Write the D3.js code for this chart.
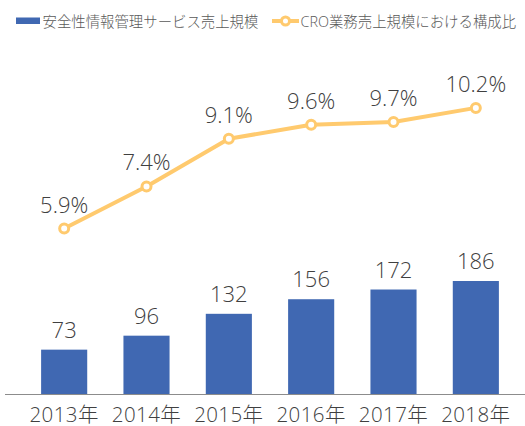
<!DOCTYPE html>
<html>
<head>
<meta charset="utf-8">
<script src="https://cdn.jsdelivr.net/npm/d3@7"></script>
<style>
  body { margin: 0; background: #fff; }
  svg { display: block; font-family: "Open Sans", "Noto Sans CJK JP", sans-serif; font-weight: 300; }
</style>
</head>
<body>
<div id="chart"></div>
<script>
const years = ['2013年', '2014年', '2015年', '2016年', '2017年', '2018年'];
const sales = [73, 96, 132, 156, 172, 186];
const shares = [5.9, 7.4, 9.1, 9.6, 9.7, 10.2];
const legendLabels = ['安全性情報管理サービス売上規模', 'CRO業務売上規模における構成比'];

const width = 525, height = 426;
const baseline = 394;

const svg = d3.select('#chart')
  .append('svg')
    .attr('width', width)
    .attr('height', height);

const xScale = d3.scaleBand()
  .domain(years)
  .range([23, 517])
  .paddingInner(0.44)
  .paddingOuter(0.22);

const yBar = d3.scaleLinear()
  .domain([0, 600])
  .range([baseline, baseline - 600 * 0.6075]);

const yLine = d3.scaleLinear()
  .domain([0, 12])
  .range([baseline, baseline - 12 * 28.05]);

const barColor = '#4068b2';
const lineColor = '#ffca6e';
const textColor = '#404040';

// bars
svg.append('g')
  .selectAll('rect')
  .data(sales)
  .join('rect')
    .attr('x', (d, i) => xScale(years[i]))
    .attr('y', d => yBar(d))
    .attr('width', xScale.bandwidth())
    .attr('height', d => baseline - yBar(d))
    .attr('fill', barColor);

svg.append('g')
  .selectAll('text')
  .data(sales)
  .join('text')
    .text(d => d)
    .attr('x', (d, i) => xScale(years[i]) + xScale.bandwidth() / 2)
    .attr('y', d => yBar(d) - 12)
    .attr('text-anchor', 'middle')
    .attr('fill', textColor)
    .style('font-size', '22px');

// category axis
svg.append('line')
  .attr('x1', 5).attr('x2', 525)
  .attr('y1', baseline + 0.5).attr('y2', baseline + 0.5)
  .attr('stroke', '#8c8c8c')
  .attr('stroke-width', 1);

svg.append('g')
  .selectAll('text')
  .data(years)
  .join('text')
    .text(d => d)
    .attr('x', d => xScale(d) + xScale.bandwidth() / 2)
    .attr('y', 422)
    .attr('text-anchor', 'middle')
    .attr('fill', textColor)
    .style('font-size', '20.5px')
    .style('letter-spacing', '0.4px');

// share line
const lineGen = d3.line()
  .x((d, i) => xScale(years[i]) + xScale.bandwidth() / 2)
  .y(d => yLine(d));

svg.append('path')
  .datum(shares)
  .attr('d', lineGen)
  .attr('fill', 'none')
  .attr('stroke', lineColor)
  .attr('stroke-width', 4)
  .attr('stroke-linejoin', 'round');

svg.append('g')
  .selectAll('circle')
  .data(shares)
  .join('circle')
    .attr('cx', (d, i) => xScale(years[i]) + xScale.bandwidth() / 2)
    .attr('cy', d => yLine(d))
    .attr('r', 4.5)
    .attr('fill', '#fff')
    .attr('stroke', lineColor)
    .attr('stroke-width', 3);

svg.append('g')
  .selectAll('text')
  .data(shares)
  .join('text')
    .text(d => d3.format('.1f')(d) + '%')
    .attr('x', (d, i) => xScale(years[i]) + xScale.bandwidth() / 2)
    .attr('y', d => yLine(d) - 16)
    .attr('text-anchor', 'middle')
    .attr('fill', textColor)
    .style('font-size', '22px');

// legend
const legend = svg.append('g');
legend.append('rect')
  .attr('x', 16).attr('y', 17.5)
  .attr('width', 24).attr('height', 6.5)
  .attr('fill', barColor);
legend.append('text')
  .text(legendLabels[0])
  .attr('x', 42.5).attr('y', 21)
  .attr('dominant-baseline', 'central')
  .attr('fill', '#595959')
  .style('font-size', '14.4px');

legend.append('line')
  .attr('x1', 272).attr('x2', 299)
  .attr('y1', 21).attr('y2', 21)
  .attr('stroke', lineColor)
  .attr('stroke-width', 4);
legend.append('circle')
  .attr('cx', 285.5).attr('cy', 21)
  .attr('r', 4)
  .attr('fill', '#fff')
  .attr('stroke', lineColor)
  .attr('stroke-width', 3);
legend.append('text')
  .text(legendLabels[1])
  .attr('x', 300.5).attr('y', 21)
  .attr('dominant-baseline', 'central')
  .attr('fill', '#595959')
  .style('font-size', '14.4px');
</script>
</body>
</html>
